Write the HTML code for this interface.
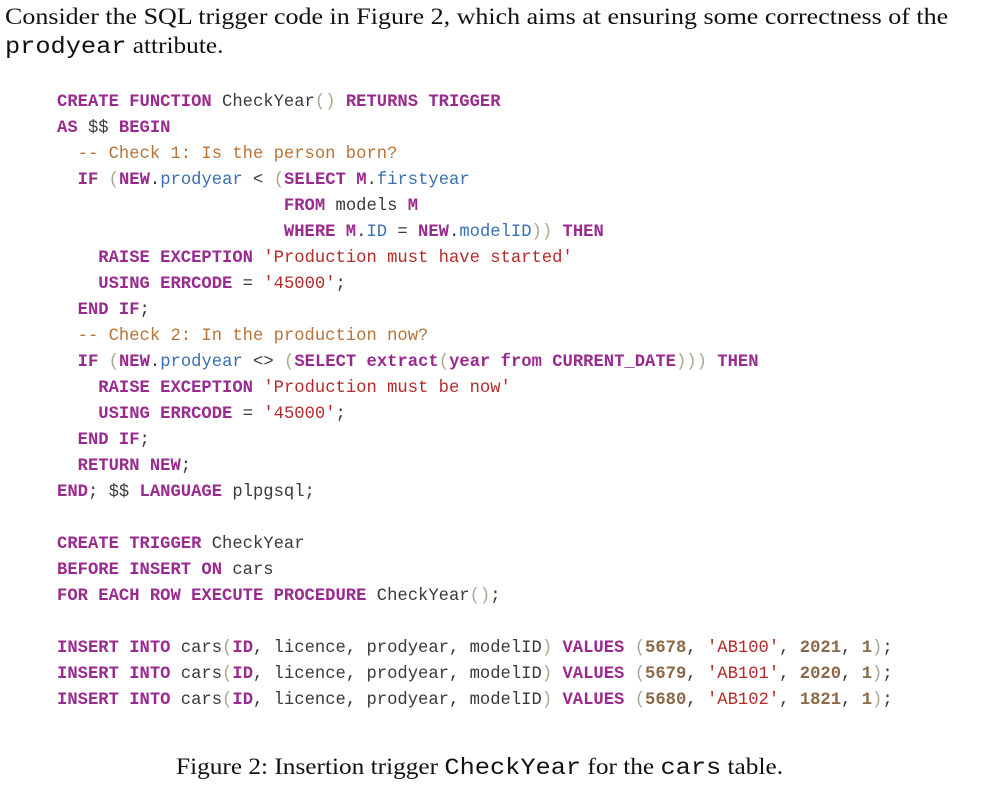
<!DOCTYPE html>
<html><head><meta charset="utf-8"><style>
body{margin:0;width:994px;height:802px;background:#fff;position:relative;overflow:hidden;font-family:"Liberation Serif",serif;color:#111}
.t{position:absolute;left:5px;font-size:23px;white-space:nowrap;transform-origin:0 0}
pre{position:absolute;left:57px;top:90px;margin:0;font-family:"Liberation Mono",monospace;font-size:17.2px;line-height:26px;color:#3a3a3a}
.k{color:#9a2b8e;font-weight:bold}.c{color:#b8733a}.f{color:#3b6fb0}.p{color:#a8a890}.s{color:#b52a2a}.n{color:#8a6848;font-weight:bold}
.tt{font-family:"Liberation Mono",monospace}
</style></head><body>
<div class="t" style="top:4px;transform:scaleX(1.13)">Consider the SQL trigger code in Figure 2, which aims at ensuring some correctness of the</div>
<div class="t" style="top:33px;transform:scaleX(1.1)"><span class="tt">prodyear</span> attribute.</div>
<pre><span class="k">CREATE FUNCTION</span> CheckYear<span class="p">()</span> <span class="k">RETURNS TRIGGER</span>
<span class="k">AS</span> $$ <span class="k">BEGIN</span>
  <span class="c">-- Check 1: Is the person born?</span>
  <span class="k">IF</span> <span class="p">(</span><span class="k">NEW</span>.<span class="f">prodyear</span> &lt; <span class="p">(</span><span class="k">SELECT M</span>.<span class="f">firstyear</span>
                      <span class="k">FROM</span> models <span class="k">M</span>
                      <span class="k">WHERE M</span>.<span class="f">ID</span> = <span class="k">NEW</span>.<span class="f">modelID</span><span class="p">))</span> <span class="k">THEN</span>
    <span class="k">RAISE EXCEPTION</span> <span class="s">'Production must have started'</span>
    <span class="k">USING ERRCODE</span> = <span class="s">'45000'</span>;
  <span class="k">END IF</span>;
  <span class="c">-- Check 2: In the production now?</span>
  <span class="k">IF</span> <span class="p">(</span><span class="k">NEW</span>.<span class="f">prodyear</span> &lt;&gt; <span class="p">(</span><span class="k">SELECT extract</span><span class="p">(</span><span class="k">year from CURRENT_DATE</span><span class="p">)))</span> <span class="k">THEN</span>
    <span class="k">RAISE EXCEPTION</span> <span class="s">'Production must be now'</span>
    <span class="k">USING ERRCODE</span> = <span class="s">'45000'</span>;
  <span class="k">END IF</span>;
  <span class="k">RETURN NEW</span>;
<span class="k">END</span>; $$ <span class="k">LANGUAGE</span> plpgsql;

<span class="k">CREATE TRIGGER</span> CheckYear
<span class="k">BEFORE INSERT ON</span> cars
<span class="k">FOR EACH ROW EXECUTE PROCEDURE</span> CheckYear<span class="p">()</span>;

<span class="k">INSERT INTO</span> cars<span class="p">(</span><span class="k">ID</span>, licence, prodyear, modelID<span class="p">)</span> <span class="k">VALUES</span> <span class="p">(</span><span class="n">5678</span>, <span class="s">'AB100'</span>, <span class="n">2021</span>, <span class="n">1</span><span class="p">)</span>;
<span class="k">INSERT INTO</span> cars<span class="p">(</span><span class="k">ID</span>, licence, prodyear, modelID<span class="p">)</span> <span class="k">VALUES</span> <span class="p">(</span><span class="n">5679</span>, <span class="s">'AB101'</span>, <span class="n">2020</span>, <span class="n">1</span><span class="p">)</span>;
<span class="k">INSERT INTO</span> cars<span class="p">(</span><span class="k">ID</span>, licence, prodyear, modelID<span class="p">)</span> <span class="k">VALUES</span> <span class="p">(</span><span class="n">5680</span>, <span class="s">'AB102'</span>, <span class="n">1821</span>, <span class="n">1</span><span class="p">)</span>;</pre>
<div class="t" style="top:754px;left:176px;transform:scaleX(1.1)">Figure 2: Insertion trigger <span class="tt">CheckYear</span> for the <span class="tt">cars</span> table.</div>
</body></html>
